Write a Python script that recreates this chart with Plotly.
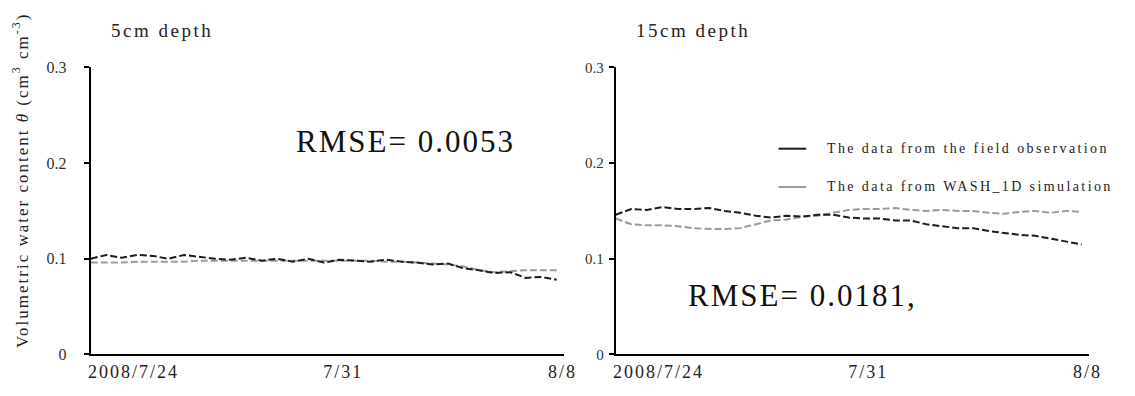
import plotly.graph_objects as go
import pandas as pd

W, H = 1135, 396

# ---- data (12-hourly, 2008/7/24 00:00 to 2008/8/8 00:00) ----
times = pd.date_range("2008-07-24 00:00", "2008-08-08 00:00", freq="12h")

obs_5cm = [0.100, 0.104, 0.101, 0.104, 0.103, 0.100, 0.104, 0.102, 0.100, 0.099,
           0.101, 0.098, 0.100, 0.097, 0.100, 0.096, 0.099, 0.098, 0.097, 0.099,
           0.097, 0.096, 0.094, 0.095, 0.090, 0.088, 0.085, 0.086, 0.080, 0.081,
           0.078]
sim_5cm = [0.096, 0.096, 0.096, 0.097, 0.097, 0.097, 0.097, 0.098, 0.098, 0.098,
           0.098, 0.098, 0.098, 0.098, 0.098, 0.098, 0.098, 0.098, 0.098, 0.097,
           0.097, 0.096, 0.095, 0.094, 0.092, 0.088, 0.086, 0.087, 0.088, 0.088,
           0.088]
obs_15cm = [0.146, 0.152, 0.151, 0.154, 0.152, 0.152, 0.153, 0.150, 0.148, 0.145,
            0.143, 0.145, 0.144, 0.146, 0.146, 0.143, 0.142, 0.142, 0.140, 0.140,
            0.136, 0.134, 0.132, 0.132, 0.129, 0.127, 0.125, 0.124, 0.121, 0.118,
            0.115]
sim_15cm = [0.142, 0.136, 0.135, 0.135, 0.134, 0.132, 0.131, 0.131, 0.132, 0.136,
            0.140, 0.141, 0.144, 0.145, 0.148, 0.151, 0.152, 0.152, 0.153, 0.151,
            0.150, 0.151, 0.150, 0.150, 0.148, 0.147, 0.149, 0.150, 0.148, 0.150,
            0.149]

y_tickvals = [0, 0.1, 0.2, 0.3]
y_ticktext = ["0", "0.1", "0.2", "0.3"]
x_tickvals = ["2008-07-25 09:00", "2008-08-01 03:00", "2008-08-08 04:30"]
x_ticktext = ["2008/7/24", "7/31", "8/8"]
x_range = ["2008-07-24 00:00", "2008-08-08 06:00"]

series_names = ["The data from the field observation", "The data from WASH_1D simulation"]
rmse_text = ["RMSE= 0.0053", "RMSE= 0.0181,"]
panel_titles = ["5cm depth", "15cm depth"]

BLACK = "#1c1c1c"
GRAY = "#9a9a9a"
SERIF = "Liberation Serif, Times New Roman, serif"
DASH = "7px,3px"


def spaced(s, ls):
    return '<span style="letter-spacing:%spx">%s</span>' % (ls, s)


fig = go.Figure()
for xa, ya, obs, sim in [("x", "y", obs_5cm, sim_5cm), ("x2", "y2", obs_15cm, sim_15cm)]:
    fig.add_trace(go.Scatter(x=times, y=sim, mode="lines", xaxis=xa, yaxis=ya,
                             line=dict(color=GRAY, width=2, dash=DASH), showlegend=False))
    fig.add_trace(go.Scatter(x=times, y=obs, mode="lines", xaxis=xa, yaxis=ya,
                             line=dict(color=BLACK, width=2, dash=DASH), showlegend=False))


def px(x):
    return x / W


def py(y):
    return 1 - y / H


xcommon = dict(type="date", range=x_range, showline=True, linecolor="black", linewidth=2,
               ticks="", showgrid=False, zeroline=False, tickvals=x_tickvals,
               ticktext=[spaced(t, 2) for t in x_ticktext],
               tickfont=dict(family=SERIF, size=18, color="#222"))
ycommon = dict(range=[0, 0.3], showline=True, linecolor="black", linewidth=2,
               ticks="outside", ticklen=5, tickwidth=2, tickcolor="black",
               showgrid=False, zeroline=False, tickvals=y_tickvals, ticktext=y_ticktext)

ydom = [1 - 362 / H, 1 - 62 / H]
fig.update_layout(
    width=W, height=H, margin=dict(l=0, r=0, t=0, b=0),
    plot_bgcolor="white", paper_bgcolor="white", showlegend=False,
    xaxis=dict(domain=[px(90), px(570)], anchor="y", **xcommon),
    xaxis2=dict(domain=[px(622), px(1102)], anchor="y2", **xcommon),
    yaxis=dict(domain=ydom, anchor="x", ticklabelstandoff=14,
               tickfont=dict(family=SERIF, size=16, color="#333"), **ycommon),
    yaxis2=dict(domain=ydom, anchor="x2", ticklabelstandoff=2,
                tickfont=dict(family=SERIF, size=15, color="#333"), **ycommon),
)

ann = []
# panel titles
ann.append(dict(x=px(108), y=py(23), text=spaced(panel_titles[0], 2.5), xanchor="left",
                yanchor="middle", font=dict(family=SERIF, size=19, color="#222")))
ann.append(dict(x=px(640), y=py(23), text=spaced(panel_titles[1], 2.5), xanchor="left",
                yanchor="middle", font=dict(family=SERIF, size=19, color="#222")))
# RMSE
ann.append(dict(x=px(296), y=py(140), text=spaced(rmse_text[0], 2), xanchor="left",
                yanchor="middle", font=dict(family=SERIF, size=31, color="#111")))
ann.append(dict(x=px(693), y=py(300), text=spaced(rmse_text[1], 2), xanchor="left",
                yanchor="middle", font=dict(family=SERIF, size=31, color="#111")))
# y-axis title
ann.append(dict(x=px(19), y=py(180), textangle=-90, xanchor="center", yanchor="middle",
                text=spaced("Volumetric water content <i>θ</i> (cm<sup>3</sup> cm<sup>-3</sup>)", 2),
                font=dict(family=SERIF, size=17, color="#222")))
# legend texts
leg_y = [147, 187]
for name, yy in zip(series_names, leg_y):
    ann.append(dict(x=px(834), y=py(yy), text=spaced(name, 2.4), xanchor="left", yanchor="middle",
                    font=dict(family=SERIF, size=14, color="#222")))
for a in ann:
    a.update(xref="paper", yref="paper", showarrow=False)
fig.update_layout(annotations=ann)

shapes = []
for col, yy in zip([BLACK, GRAY], leg_y):
    shapes.append(dict(type="line", xref="paper", yref="paper", x0=px(787), x1=px(815),
                       y0=py(yy), y1=py(yy), line=dict(color=col, width=2)))
fig.update_layout(shapes=shapes)

fig.write_html("out.html")
